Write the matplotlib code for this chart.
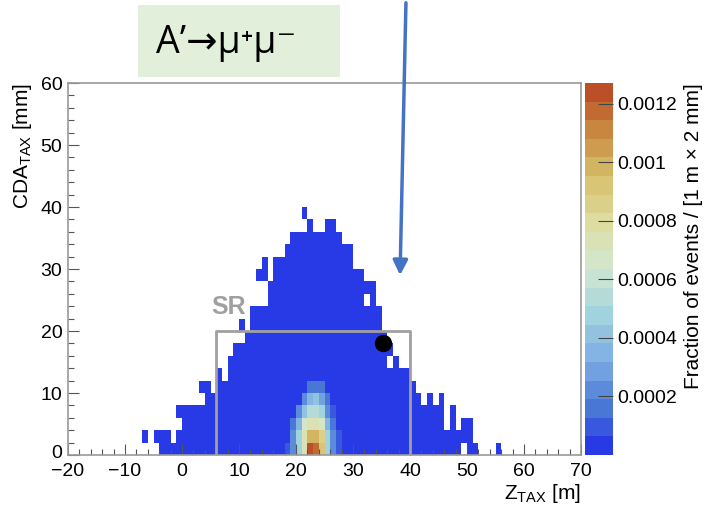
import numpy as np
import matplotlib
matplotlib.use("Agg")
import matplotlib.pyplot as plt
import matplotlib.transforms as mtransforms
from matplotlib.colors import LinearSegmentedColormap, ListedColormap, Normalize
from matplotlib.patches import Rectangle, FancyArrowPatch
from matplotlib.ticker import MultipleLocator, FixedLocator, FixedFormatter

plt.rcParams['font.family'] = ['Liberation Sans', 'DejaVu Sans']
plt.rcParams['mathtext.fontset'] = 'custom'
plt.rcParams['mathtext.rm'] = 'Liberation Sans'
plt.rcParams['mathtext.it'] = 'Liberation Sans:italic'
plt.rcParams['mathtext.bf'] = 'Liberation Sans:bold'

# binning: 1 m in Z, 2 mm in CDA
z_min, z_max = -20, 70
cda_min, cda_max = 0, 60

# per Z column: upper edge (mm) of the filled region
col_z = list(range(-7, 56))
col_top = [4, 0, 4, 4, 4, 2, 8, 8, 8, 8, 12, 12, 10, 14, 12, 16, 18, 22, 20, 24,
           30, 32, 28, 32, 32, 34, 36, 36, 40, 38, 36, 36, 38, 38, 36, 34, 34, 30,
           30, 28, 28, 24, 20, 18, 16, 14, 14, 12, 10, 8, 10, 8, 10, 4, 8, 4, 6,
           6, 2, 0, 0, 0, 2]

# empty cells inside the filled region (z, cda lower edge)
holes = [(-7, 0), (-5, 0), (-1, 4), (3, 8), (10, 18), (13, 24), (13, 26),
         (14, 24), (14, 26), (21, 36), (32, 24), (36, 14), (49, 0)]

base_value = 0.00002

# central peak, units of 1e-4; rows are CDA bins 0-2, 2-4, ... 10-12
core_z = list(range(18, 28))
core_vals = [
    [1.0, 2.5, 5.0, 7.5, 12.5, 11.5, 9.0, 5.0, 2.5, 1.0],
    [0.5, 2.0, 4.5, 7.5, 10.0, 10.0, 8.5, 4.5, 2.0, 1.0],
    [0.0, 1.5, 3.5, 6.5, 7.5, 7.5, 6.5, 3.5, 1.5, 0.0],
    [0.0, 0.0, 2.0, 4.0, 5.5, 5.5, 4.5, 2.5, 1.0, 0.0],
    [0.0, 0.0, 0.0, 2.0, 3.5, 4.0, 3.0, 1.5, 0.0, 0.0],
    [0.0, 0.0, 0.0, 0.0, 1.5, 1.8, 1.5, 0.0, 0.0, 0.0],
]

cbar_ticks = [0.0002, 0.0004, 0.0006, 0.0008, 0.001, 0.0012]
cbar_labels = ['0.0002', '0.0004', '0.0006', '0.0008', '0.001', '0.0012']
z_max_val = 0.00127

sr_box = (6, 40, 0, 20)
point = (35.3, 18.1)

# ROOT kLightTemperature palette
lt_r = [31, 71, 123, 160, 210, 222, 214, 199, 183]
lt_g = [40, 117, 171, 211, 231, 220, 190, 132, 65]
lt_b = [234, 214, 228, 222, 210, 160, 105, 60, 34]
stops = np.array([lt_r, lt_g, lt_b]).T / 255.0
smooth = LinearSegmentedColormap.from_list('lighttemp', stops)
cmap = ListedColormap(smooth(np.linspace(0.03, 0.97, 20)))

# build the 2D histogram
z_edges = np.arange(z_min, z_max + 1, 1)
cda_edges = np.arange(cda_min, cda_max + 1, 2)
H = np.zeros((len(cda_edges) - 1, len(z_edges) - 1))
for z, top in zip(col_z, col_top):
    H[0:top // 2, z - z_min] = base_value
for z, c in holes:
    H[c // 2, z - z_min] = 0
for i, row in enumerate(core_vals):
    for z, v in zip(core_z, row):
        if v > 0:
            H[i, z - z_min] = v * 1e-4
Hm = np.ma.masked_equal(H, 0)

fig = plt.figure(figsize=(7.18, 5.05), dpi=100)
W, Ht = 718.0, 505.0
ax = fig.add_axes([68 / W, 1 - 455 / Ht, (581 - 68) / W, (455 - 83) / Ht])
cax = fig.add_axes([585 / W, 1 - 455 / Ht, 28 / W, (455 - 83) / Ht])

norm = Normalize(vmin=0, vmax=z_max_val)
mesh = ax.pcolormesh(z_edges, cda_edges, Hm, cmap=cmap, norm=norm)

ax.set_xlim(z_min, z_max)
ax.set_ylim(cda_min, cda_max)

# signal region
x0, x1, y0, y1 = sr_box
ax.plot([x0, x0, x1, x1], [y0, y1, y1, y0], color='#a0a0a0', lw=2)
ax.text(5.1, 22.0, 'SR', color='#a0a0a0', fontsize=18, fontweight='bold',
        ha='left', va='bottom')
ax.plot(point[0], point[1], 'o', color='black', markersize=11.5)

for s in ax.spines.values():
    s.set_color('#9a9a9a')
    s.set_linewidth(1.2)
ax.xaxis.set_major_locator(MultipleLocator(10))
ax.xaxis.set_minor_locator(MultipleLocator(2))
ax.yaxis.set_major_locator(MultipleLocator(10))
ax.yaxis.set_minor_locator(MultipleLocator(2))
ax.tick_params(which='both', direction='in', top=False, right=False,
               color='#555555', labelsize=14)
ax.tick_params(which='major', length=8, width=0.8, pad=4)
ax.tick_params(axis='x', which='major', pad=6)
ax.tick_params(which='minor', length=4.5, width=0.8)
ax.set_xlabel(r'Z$_{\mathrm{TAX}}$ [m]', fontsize=15, loc='right', labelpad=1)
ax.set_ylabel(r'CDA$_{\mathrm{TAX}}$ [mm]', fontsize=15, loc='top', labelpad=5)

# lift the "0" on the y axis a little, as in the reference
fig.canvas.draw()
lift = mtransforms.ScaledTranslation(0, 4 / 100.0, fig.dpi_scale_trans)
for lbl in ax.get_yticklabels():
    if lbl.get_text() == '0':
        lbl.set_transform(lbl.get_transform() + lift)

cb = fig.colorbar(mesh, cax=cax)
cb.outline.set_visible(False)
cax.yaxis.set_major_locator(FixedLocator(cbar_ticks))
cax.yaxis.set_major_formatter(FixedFormatter(cbar_labels))
cax.yaxis.set_minor_locator(FixedLocator([]))
cax.tick_params(direction='in', length=11, width=0.8, color='#444444',
                labelsize=14, pad=3)
cax.set_ylabel('Fraction of events / [1 m × 2 mm]', fontsize=15,
               loc='top', labelpad=5)

# title box
fig.add_artist(Rectangle((138 / W, 1 - 77 / Ht), 202 / W, 72 / Ht,
                         transform=fig.transFigure, facecolor='#e2efda',
                         edgecolor='none'))
fig.text(156 / W, 1 - 43 / Ht, 'A’→μ⁺μ⁻', fontsize=27,
         family=['Open Sans', 'DejaVu Sans'], ha='left', va='center')

# pointer arrow
fig.add_artist(FancyArrowPatch((406 / W, 1.0), (400 / W, 1 - 278 / Ht),
                               transform=fig.transFigure, arrowstyle='-|>',
                               mutation_scale=22, color='#4472c4', lw=2.5))

fig.savefig('out.png', dpi=100)
